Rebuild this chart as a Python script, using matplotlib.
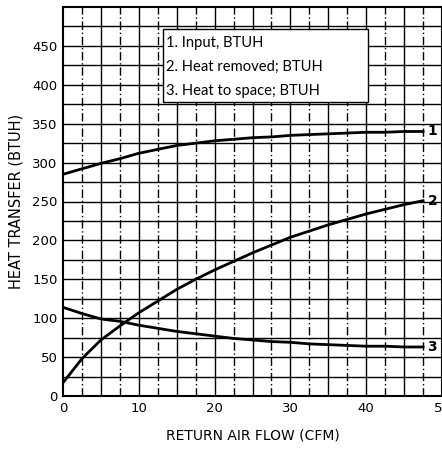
"""Heat transfer vs return air flow."""
import matplotlib
matplotlib.use("Agg")
import matplotlib.pyplot as plt
import numpy as np

# curve data
flow = [0, 2.5, 5, 7.5, 10, 12.5, 15, 17.5, 20, 22.5, 25, 27.5, 30, 32.5, 35, 37.5, 40, 42.5, 45, 47.5]
heat_input = [285, 292, 299, 305, 312, 317, 322, 325, 328, 330, 332, 333, 335, 336, 337, 338, 339, 339, 340, 340]
heat_removed = [17, 48, 72, 90, 107, 122, 137, 150, 162, 173, 184, 194, 204, 212, 220, 227, 234, 240, 246, 251]
heat_to_space = [114, 106, 99, 96, 91, 87, 83, 80, 77, 74, 72, 70, 69, 67, 66, 65, 64, 64, 63, 63]

legend_lines = ["1. Input, BTUH", "2. Heat removed; BTUH", "3. Heat to space; BTUH"]
x_ticks = [0, 10, 20, 30, 40, 50]
y_ticks = [0, 50, 100, 150, 200, 250, 300, 350, 400, 450]

fig = plt.figure(figsize=(4.42, 4.49), dpi=100)
ax = fig.add_axes([63 / 442, 53 / 449, 379 / 442, 389 / 449])
ax.set_xlim(0, 50)
ax.set_ylim(0, 500)

# grid: horizontal every 25, vertical every 2.5
for yv in np.arange(25, 500, 25):
    ax.axhline(yv, color="black", lw=1.0, zorder=1)
for xv in np.arange(2.5, 50, 2.5):
    ls = "-" if xv % 5 == 0 else (0, (6, 2, 1, 2))
    ax.axvline(xv, color="black", lw=1.0, ls=ls, zorder=1)

for ys, lab in zip([heat_input, heat_removed, heat_to_space], ["1", "2", "3"]):
    ax.plot(flow, ys, color="black", lw=2.0, zorder=3)
    ax.text(flow[-1] + 0.6, ys[-1], lab, fontsize=10, fontweight="bold",
            va="center", ha="left", zorder=4)

# legend box
ax.add_patch(plt.Rectangle((13.2, 378), 27.0, 94, facecolor="white",
                           edgecolor="black", lw=1.0, zorder=5))
for i, t in enumerate(legend_lines):
    ax.text(13.6, 454 - i * 31, t, fontsize=10.6, family="Lato",
            va="center", ha="left", zorder=6)

for s in ax.spines.values():
    s.set_linewidth(1.5)
ax.set_xticks(x_ticks)
ax.set_yticks(y_ticks)
ax.tick_params(length=0, labelsize=9.5, pad=4)
ax.set_xlabel("RETURN AIR FLOW (CFM)", fontsize=10, labelpad=10)
ax.set_ylabel("HEAT TRANSFER (BTUH)", fontsize=10.5, labelpad=6)

plt.savefig("out.png", dpi=100)
plt.close()
